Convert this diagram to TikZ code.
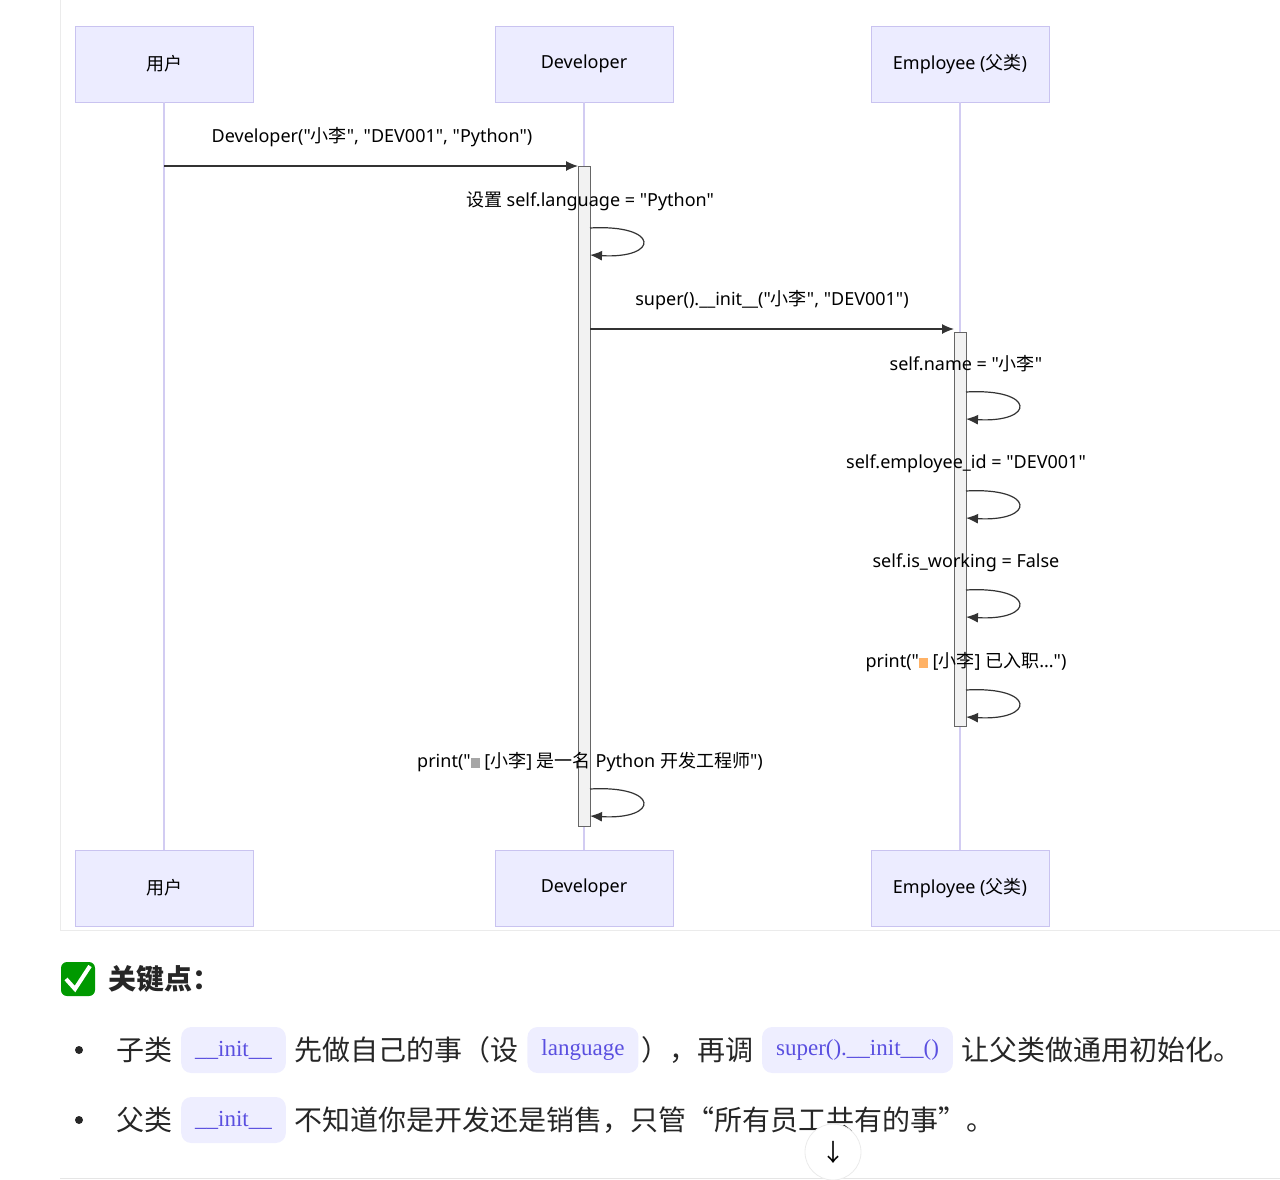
\documentclass[tikz,border=0pt]{standalone}
\usepackage{fontspec}
\setmainfont{Noto Sans CJK SC}
\newfontfamily\latin{Noto Sans}
\newfontfamily\codefont{Liberation Serif}
\newcommand{\zh}[1]{{\fontspec{Noto Sans CJK SC}#1}}
\usetikzlibrary{arrows.meta,positioning}
\definecolor{actorfill}{HTML}{ECECFF}
\definecolor{actorline}{HTML}{C9C3F0}
\definecolor{lifeline}{HTML}{D2CCF2}
\definecolor{chipfill}{HTML}{EEEEFF}
\definecolor{codeblue}{HTML}{5A4FE0}
\tikzset{
  actor/.style={draw=actorline,fill=actorfill,minimum width=89pt,minimum height=38pt,font=\latin\fontsize{9}{10}\selectfont},
  msg/.style={font=\latin\fontsize{9}{10}\selectfont,inner sep=0pt},
  activation/.style={draw=black!60,fill=black!5,line width=0.4pt},
  call/.style={-{Latex[length=6pt,width=5pt]},line width=0.6pt,black!80},
  chip/.style={fill=chipfill,rounded corners=5pt,inner xsep=7pt,minimum height=23pt,font=\codefont\fontsize{11.5}{12}\selectfont,text=codeblue},
  body/.style={font=\fontsize{14}{15}\selectfont,inner sep=0pt,text=black!85},
}
\begin{document}
\begin{tikzpicture}[x=0.5pt,y=-0.5pt]
  \useasboundingbox (0,0) rectangle (1280,1179);
  % frame
  \draw[black!8] (60,0) -- (60,930) -- (1280,930);
  \draw[black!10] (60,1178) -- (1280,1178);

  % lifelines
  \foreach \name/\x/\txt in {user/164/\zh{用户},dev/584/Developer,emp/960/Employee (\zh{父类})} {
    \node[actor] (\name top) at (\x,64) {\txt};
    \node[actor] (\name bot) at (\x,888) {\txt};
    \draw[lifeline,line width=0.8pt] (\name top) -- (\name bot);
  }

  % activations
  \filldraw[activation] (578,166) rectangle (590,826);
  \filldraw[activation] (954,332) rectangle (966,726);

  % calls
  \coordinate (c1s) at (164,166); \coordinate (c1e) at (578,166);
  \draw[call] (c1s) -- (c1e);
  \node[msg] (m1) at (372,137) {Developer("\zh{小李}", "DEV001", "Python")};
  \coordinate (c2s) at (590,329); \coordinate (c2e) at (954,329);
  \draw[call] (c2s) -- (c2e);
  \node[msg] (m2) at (772,300) {super().\_\_init\_\_("\zh{小李}", "DEV001")};

  % self calls
  \foreach \id/\x/\ly/\ty/\txt in {
      s1/590/201/228/{\zh{设置} self.language = "Python"},
      s2/966/364/392/{self.name = "\zh{小李}"},
      s3/966/464/491/{self.employee\_id = "DEV001"},
      s4/966/563/590/{self.is\_working = False},
      s5/966/662/690/{print("\tikz[baseline=-2pt]\fill[orange!60] (0,-5) rectangle (9,5); [\zh{小李}] \zh{已入职}...")},
      s6/590/762/789/{print("\tikz[baseline=-2pt]\fill[gray!70] (0,-5) rectangle (9,5); [\zh{小李}] \zh{是一名} Python \zh{开发工程师}")}} {
    \node[msg] (\id) at (\x,\ly) {\txt};
    \coordinate (\id a) at (\x,\ty);
    \coordinate (\id b) at (\x,\ty+27);
    \draw[call] (\id a) .. controls +(70,-4) and +(70,4) .. (\id b);
  }

  % key points
  \node[fill=green!60!black,rounded corners=3pt,minimum size=17pt,inner sep=0pt] (check) at (78,979) {};
  \draw[white,line width=2pt] (66,979) -- (75,989) -- (90,966);
  \node[body,font=\bfseries\fontsize{14}{15}\selectfont,anchor=west] (kp) at (108,979) {关键点：};

  \fill[black!85] (79,1050) circle (4);
  \node[body,anchor=west] (b1a) at (116,1050) {子类};
  \node[chip,right=4pt of b1a] (b1b) {\_\_init\_\_};
  \node[body,right=4pt of b1b] (b1c) {先做自己的事（设};
  \node[chip,right=4pt of b1c] (b1d) {language};
  \node[body,right=1pt of b1d] (b1e) {），再调};
  \node[chip,right=4pt of b1e] (b1f) {super().\_\_init\_\_()};
  \node[body,right=4pt of b1f] (b1g) {让父类做通用初始化。};

  \fill[black!85] (79,1120) circle (4);
  \node[body,anchor=west] (b2a) at (116,1120) {父类};
  \node[chip,right=4pt of b2a] (b2b) {\_\_init\_\_};
  \node[body,right=4pt of b2b] (b2c) {不知道你是开发还是销售，只管“所有员工共有的事”。};

  % scroll button
  \node[circle,fill=white,draw=black!8,minimum size=28pt,font=\fontsize{12}{12}\selectfont] (scroll) at (833,1152) {↓};
\end{tikzpicture}
\end{document}
